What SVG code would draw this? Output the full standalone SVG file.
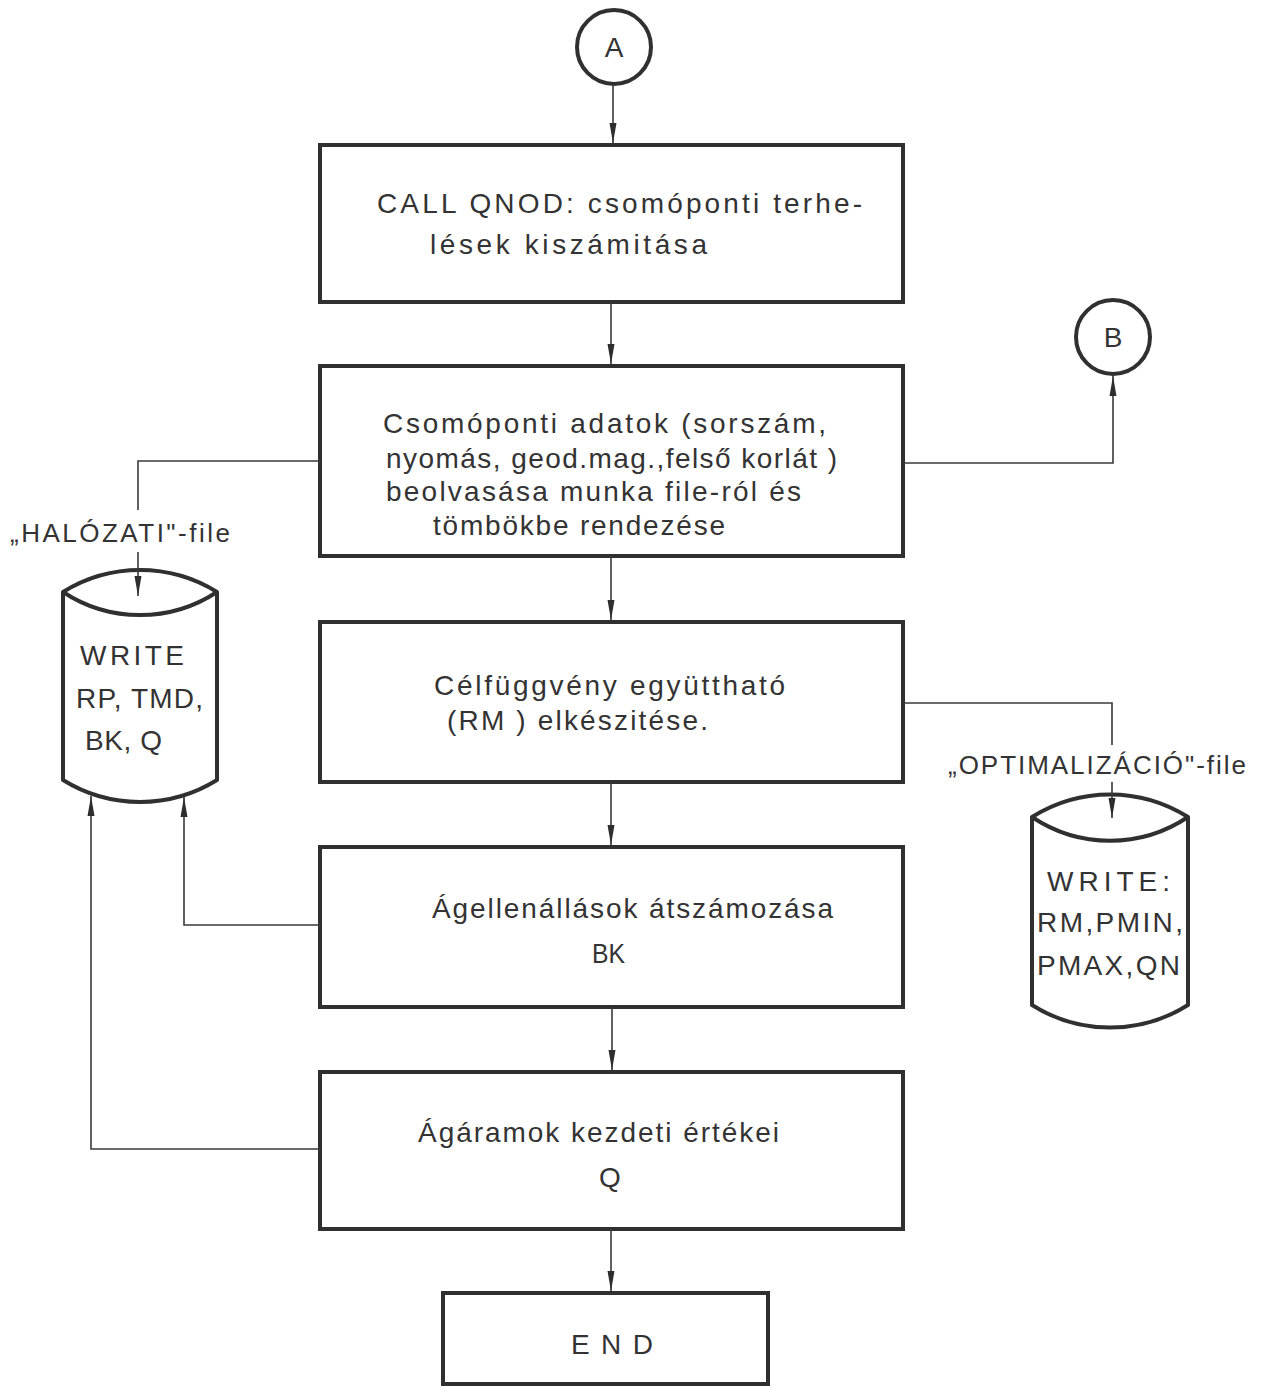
<svg xmlns="http://www.w3.org/2000/svg" width="1261" height="1388" viewBox="0 0 1261 1388">
  <defs>
    <marker id="arrow" viewBox="0 0 20 8" refX="20" refY="4" markerWidth="20" markerHeight="8" markerUnits="userSpaceOnUse" orient="auto">
      <path d="M0,0.5 L20,4 L0,7.5 z" fill="#2e2e2e"/>
    </marker>
    <style>
      .box { fill: #ffffff; stroke: #303030; stroke-width: 4; }
      .conn { fill: none; stroke: #3a3a3a; stroke-width: 1.6; }
      .store { fill: #ffffff; stroke: #303030; stroke-width: 4; stroke-linejoin: round; }
      .t { font-family: "Liberation Sans", "DejaVu Sans", sans-serif; font-size: 28px; fill: #333333; }
      .lbl { font-family: "Liberation Sans", "DejaVu Sans", sans-serif; font-size: 26px; fill: #333333; }
      .mid { text-anchor: middle; }
    </style>
  </defs>
  <rect width="1261" height="1388" fill="#ffffff"/>

  <g id="conn-A">
    <circle cx="614" cy="47" r="37" fill="#ffffff" stroke="#303030" stroke-width="4"/>
    <text class="t mid" x="614" y="57">A</text>
  </g>

  <g id="conn-B">
    <circle cx="1113" cy="337" r="37" fill="#ffffff" stroke="#303030" stroke-width="4"/>
    <text class="t mid" x="1113" y="347">B</text>
  </g>

  <g id="qnod">
    <rect class="box" x="320" y="145" width="583" height="157"/>
    <text class="t" x="377" y="213" textLength="485" lengthAdjust="spacing">CALL QNOD: csomóponti terhe-</text>
    <text class="t" x="430" y="254" textLength="277" lengthAdjust="spacing">lések kiszámitása</text>
  </g>

  <g id="read-nodes">
    <rect class="box" x="320" y="366" width="583" height="190"/>
    <text class="t" x="383" y="433" textLength="443" lengthAdjust="spacing">Csomóponti adatok (sorszám,</text>
    <text class="t" x="386" y="468" textLength="451" lengthAdjust="spacing">nyomás, geod.mag.,felső korlát )</text>
    <text class="t" x="386" y="501" textLength="415" lengthAdjust="spacing">beolvasása munka file-ról és</text>
    <text class="t" x="433" y="535" textLength="292" lengthAdjust="spacing">tömbökbe rendezése</text>
  </g>

  <g id="objective">
    <rect class="box" x="320" y="622" width="583" height="160"/>
    <text class="t" x="434" y="695" textLength="351" lengthAdjust="spacing">Célfüggvény együttható</text>
    <text class="t" x="447" y="730" textLength="261" lengthAdjust="spacing">(RM ) elkészitése.</text>
  </g>

  <g id="renumber">
    <rect class="box" x="320" y="847" width="583" height="160"/>
    <text class="t" x="432" y="918" textLength="401" lengthAdjust="spacing">Ágellenállások átszámozása</text>
    <text class="t" x="592" y="963" textLength="33" lengthAdjust="spacingAndGlyphs">BK</text>
  </g>

  <g id="initial-flows">
    <rect class="box" x="320" y="1072" width="583" height="157"/>
    <text class="t" x="418" y="1142" textLength="361" lengthAdjust="spacing">Ágáramok kezdeti értékei</text>
    <text class="t" x="599" y="1187">Q</text>
  </g>

  <g id="end">
    <rect class="box" x="443" y="1293" width="325" height="91"/>
    <text class="t" x="571" y="1354" textLength="82" lengthAdjust="spacing">END</text>
  </g>

  <g id="network-file">
    <path class="store" d="M63,592 A146,146 0 0 1 217,592 V780 A146,146 0 0 1 63,780 Z"/>
    <path class="store" d="M63,592 A140,140 0 0 0 217,592"/>
    <text class="lbl" x="10" y="542" textLength="220" lengthAdjust="spacing">„HALÓZATI"-file</text>
    <text class="t" x="80" y="665" textLength="104" lengthAdjust="spacing">WRITE</text>
    <text class="t" x="76" y="708" textLength="127" lengthAdjust="spacing">RP, TMD,</text>
    <text class="t" x="85" y="750" textLength="77" lengthAdjust="spacing">BK, Q</text>
  </g>

  <g id="optimisation-file">
    <path class="store" d="M1032,817 A146,146 0 0 1 1188,817 V1005 A146,146 0 0 1 1032,1005 Z"/>
    <path class="store" d="M1032,817 A140,140 0 0 0 1188,817"/>
    <text class="lbl" x="948" y="774" textLength="298" lengthAdjust="spacing">„OPTIMALIZÁCIÓ"-file</text>
    <text class="t" x="1047" y="891" textLength="123" lengthAdjust="spacing">WRITE:</text>
    <text class="t" x="1037" y="932" textLength="146" lengthAdjust="spacing">RM,PMIN,</text>
    <text class="t" x="1037" y="975" textLength="143" lengthAdjust="spacing">PMAX,QN</text>
  </g>

  <!-- connectors, drawn last so the arrows into the file symbols stay visible -->
  <g id="connectors">
    <path class="conn" d="M613,85 V143" marker-end="url(#arrow)"/>
    <path class="conn" d="M611,302 V364" marker-end="url(#arrow)"/>
    <path class="conn" d="M611,556 V620" marker-end="url(#arrow)"/>
    <path class="conn" d="M611,782 V845" marker-end="url(#arrow)"/>
    <path class="conn" d="M612,1007 V1070" marker-end="url(#arrow)"/>
    <path class="conn" d="M611,1229 V1291" marker-end="url(#arrow)"/>
    <!-- node data to B -->
    <path class="conn" d="M903,463 H1113 V376" marker-end="url(#arrow)"/>
    <!-- node data to network file -->
    <path class="conn" d="M320,461 H138 V510 M138,552 V596" marker-end="url(#arrow)"/>
    <!-- objective coefficients to optimisation file -->
    <path class="conn" d="M903,703 H1112 V745 M1112,782 V818" marker-end="url(#arrow)"/>
    <!-- BK and Q back to network file -->
    <path class="conn" d="M320,925 H184 V797" marker-end="url(#arrow)"/>
    <path class="conn" d="M320,1149 H91 V796" marker-end="url(#arrow)"/>
  </g>
</svg>
